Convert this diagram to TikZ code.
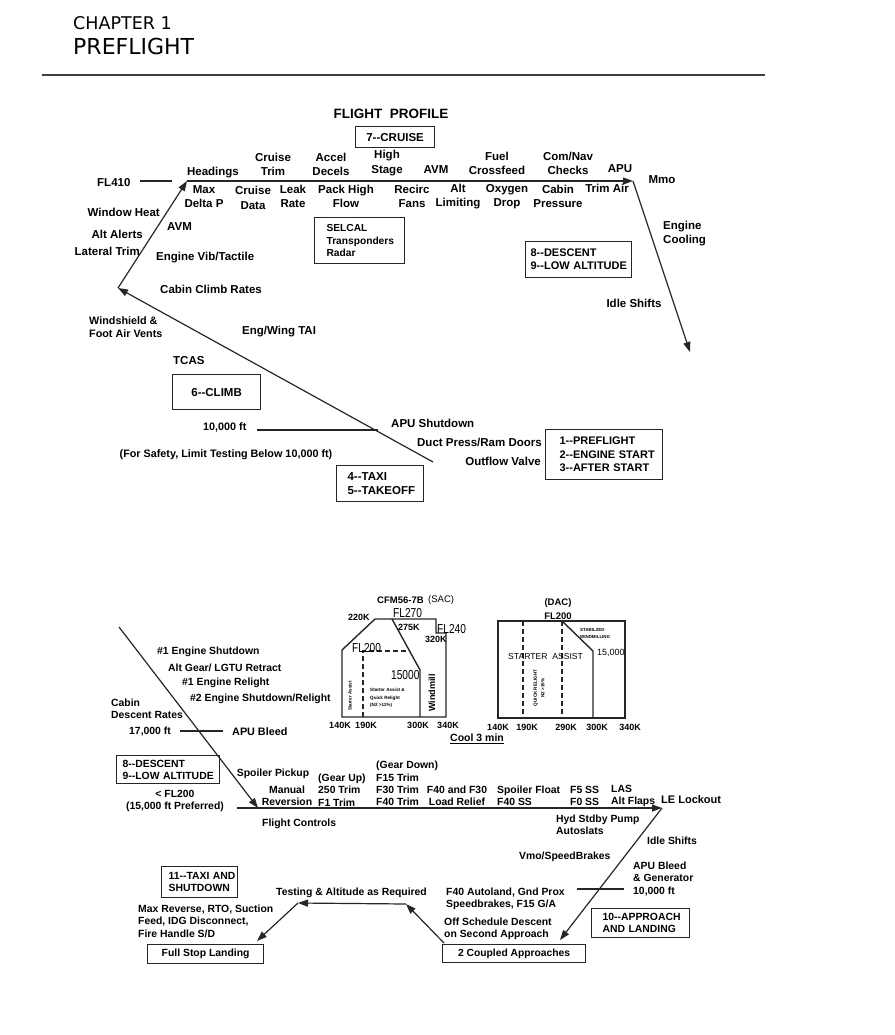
\documentclass[tikz,border=0pt]{standalone}
\usepackage{fontspec}
\usepackage{graphicx}
\setmainfont{Liberation Sans}
\newfontfamily\hdr{DejaVu Sans}
\usetikzlibrary{arrows.meta}
\newcommand{\dd}{-\kern0pt-}
\begin{document}
\begin{tikzpicture}[x=1pt,y=-1pt,
  t/.style={inner sep=0pt, font=\fontsize{11.5}{14.5}\selectfont\bfseries, align=center},
  b/.style={inner sep=0pt, font=\fontsize{10.4}{12.4}\selectfont\bfseries, align=center},
  sm/.style={inner sep=0pt, font=\fontsize{9}{10}\selectfont\bfseries, align=center},
  tiny/.style={inner sep=0pt, font=\fontsize{4.6}{7.5}\selectfont\bfseries, align=left},
  thin/.style={inner sep=0pt, font=\fontsize{13}{14}\selectfont},
  ln/.style={line width=1.2pt, draw=black!85},
  arr/.style={ln, -{Triangle[length=10pt,width=7pt]}},
  chart/.style={line width=1.4pt, draw=black!85},
  dsh/.style={chart, dash pattern=on 5pt off 3pt},
  boxc/.style={draw=black!85, line width=1.2pt, inner sep=0pt, anchor=north west, align=center},
  boxl/.style={draw=black!85, line width=1.2pt, inner ysep=0pt, anchor=north west, align=left}
]
\useasboundingbox (0,0) rectangle (894,1035);
% header
\node[inner sep=0pt, anchor=west, font=\hdr\fontsize{17.5}{20}\selectfont] (ch) at (73,23.5) {CHAPTER 1};
\node[inner sep=0pt, anchor=west, font=\hdr\fontsize{22}{24}\selectfont] (pf) at (73,46) {PREFLIGHT};
\coordinate (r0) at (42,75); \coordinate (r1) at (765,75);
\draw[line width=1.3pt, draw=black!75] (r0) -- (r1);

% ===== top diagram =====
\node[inner sep=0pt, font=\fontsize{13.5}{15}\selectfont\bfseries] (fp) at (391,114) {FLIGHT\ \ PROFILE};
\node[boxc, font=\fontsize{11.5}{14}\selectfont\bfseries, minimum width=79pt, minimum height=21pt] (cruise) at (355,126) {7\dd CRUISE};

\coordinate (c0) at (433,462);
\coordinate (c1) at (118,288);
\coordinate (c2) at (187,181);
\coordinate (c3) at (633,181);
\coordinate (c4) at (690,352);
\draw[arr] (c0) -- (c1);
\draw[arr] (c1) -- (c2);
\draw[arr] (c2) -- (c3);
\draw[arr] (c3) -- (c4);
\coordinate (f0) at (140,181); \coordinate (f1) at (172,181);
\draw[ln] (f0) -- (f1);
\coordinate (k0) at (257,430); \coordinate (k1) at (378,430);
\draw[ln] (k0) -- (k1);

\node[t, anchor=west] (fl410) at (97,183) {FL410};
\node[t] (hd) at (213,173) {Headings};
\node[t] (ct) at (273,164.5) {Cruise\\Trim};
\node[t] (ad) at (331,164.5) {Accel\\Decels};
\node[t] (hs) at (387,163) {High\\Stage};
\node[t] (avm1) at (436,170) {AVM};
\node[t] (fc) at (497,163.5) {Fuel\\Crossfeed};
\node[t] (cn) at (568,163.5) {Com/Nav\\Checks};
\node[t] (apu) at (620,169) {APU};
\node[t] (mmo) at (662,180) {Mmo};
\node[t] (md) at (204,196.5) {Max\\Delta P};
\node[t] (cd) at (253,198) {Cruise\\Data};
\node[t] (lr) at (293,196.5) {Leak\\Rate};
\node[t] (ph) at (346,196.5) {Pack High\\Flow};
\node[t] (rf) at (412,196.5) {Recirc\\Fans};
\node[t] (al) at (458,196.5) {Alt\\Limiting};
\node[t] (od) at (507,196.5) {Oxygen\\Drop};
\node[t] (cp) at (558,196.5) {Cabin\\Pressure};
\node[t] (ta) at (607,188) {Trim Air};
\node[boxl, font=\fontsize{10.2}{12.5}\selectfont\bfseries, inner xsep=12pt, text width=66pt, minimum height=46pt] (selcal) at (314,217) {\mbox{SELCAL}\\\mbox{Transponders}\\\mbox{Radar}};
\node[boxl, font=\fontsize{11}{13}\selectfont\bfseries, inner xsep=5pt, text width=96pt, minimum height=36pt] (desc8) at (525,241) {\mbox{8\dd DESCENT}\\\mbox{9\dd LOW ALTITUDE}};
\node[t, anchor=west, align=left] (ec) at (663,233.5) {Engine\\Cooling};
\node[t] (is1) at (634,303) {Idle Shifts};

\node[t, anchor=east] (wh) at (160,212) {Window Heat};
\node[t, anchor=east] (aa) at (143,234) {Alt Alerts};
\node[t, anchor=east] (lt) at (140,251) {Lateral Trim};
\node[t, anchor=west] (avm2) at (167,227) {AVM};
\node[t, anchor=west] (ev) at (156,258) {Engine Vib/Tactile};
\node[t, anchor=west] (ccr) at (160,289) {Cabin Climb Rates};
\node[t, anchor=west, align=left, font=\fontsize{10.8}{12.5}\selectfont\bfseries] (ws) at (89,327) {Windshield \&\\Foot Air Vents};
\node[t, anchor=west] (ewt) at (242,332) {Eng/Wing TAI};
\node[t, anchor=west] (tcas) at (173,361) {TCAS};
\node[boxc, font=\fontsize{11.5}{14}\selectfont\bfseries, minimum width=88pt, minimum height=35pt] (climb) at (172,374) {6\dd CLIMB};
\node[t, anchor=west, font=\fontsize{10.8}{13}\selectfont\bfseries] (tenk) at (203,427) {10,000 ft};
\node[t, font=\fontsize{10.8}{13}\selectfont\bfseries] (safe) at (226,455) {(For Safety, Limit Testing Below 10,000 ft)};
\node[boxl, font=\fontsize{11.5}{14}\selectfont\bfseries, inner xsep=11pt, text width=65pt, minimum height=36pt] (taxi4) at (336,465) {\mbox{4\dd TAXI}\\\mbox{5\dd TAKEOFF}};
\node[t, anchor=west] (apus) at (391,423) {APU Shutdown};
\node[t, anchor=east] (dp) at (542,442) {Duct Press/Ram Doors};
\node[t, anchor=east] (ov) at (541,461) {Outflow Valve};
\node[boxl, font=\fontsize{11}{13.5}\selectfont\bfseries, inner xsep=14pt, text width=89pt, minimum height=50pt] (pre1) at (545,429) {\mbox{1\dd PREFLIGHT}\\\mbox{2\dd ENGINE START}\\\mbox{3\dd AFTER START}};

% ===== engine charts =====
\node[sm, anchor=west, font=\fontsize{9.5}{11}\selectfont\bfseries] (cfm) at (377,600) {CFM56-7B};
\node[sm, anchor=west, font=\fontsize{9.5}{11}\selectfont] (sac) at (428,600) {(SAC)};
\coordinate (s1) at (342,717); \coordinate (s2) at (342,650); \coordinate (s3) at (375,619);
\coordinate (s4) at (436,619); \coordinate (s5) at (436,633); \coordinate (s6) at (446,633);
\coordinate (s7) at (446,717);
\draw[chart] (s1) -- (s2) -- (s3) -- (s4) -- (s5) -- (s6) -- (s7) -- cycle;
\coordinate (s8) at (392,619); \coordinate (s9) at (420,670); \coordinate (s10) at (420,717);
\draw[chart] (s8) -- (s9) -- (s10);
\coordinate (s11) at (363,717); \coordinate (s12) at (363,651); \coordinate (s13) at (408,651);
\draw[dsh] (s11) -- (s12) -- (s13);
\node[sm, anchor=west] (k220) at (348,617) {220K};
\node[thin, anchor=west] (fl270) at (393,613) {\scalebox{0.78}[1]{FL270}};
\node[sm, anchor=west] (k275) at (398,627) {275K};
\node[thin, anchor=west] (fl240) at (437,629) {\scalebox{0.78}[1]{FL240}};
\node[sm, anchor=west] (k320) at (425,639) {320K};
\node[thin, anchor=west] (fl200a) at (352,648) {\scalebox{0.78}[1]{FL200}};
\node[thin, anchor=west] (n15000) at (391,675) {\scalebox{0.78}[1]{15000}};
\node[tiny, anchor=west] (saq) at (370,698) {Starter Assist \&\\Quick Relight\\(N2 {>}11\%)};
\node[tiny, rotate=90] (sav) at (350,696) {Starter Assist};
\node[sm, rotate=90] (wm) at (432,693) {Windmill};
\node[sm] (a140) at (340,725) {140K};
\node[sm] (a190) at (366,725) {190K};
\node[sm] (a300) at (418,725) {300K};
\node[sm] (a340) at (448,725) {340K};
\node[sm, font=\fontsize{10.5}{12}\selectfont\bfseries] (cool) at (477,739) {\underline{Cool 3 min}};

\node[sm, font=\fontsize{9.5}{11}\selectfont\bfseries] (dac) at (558,603) {(DAC)};
\node[sm, font=\fontsize{9.5}{11}\selectfont\bfseries] (fl200b) at (558,616) {FL200};
\coordinate (d1a) at (498,621); \coordinate (d1b) at (625,718);
\draw[chart] (d1a) rectangle (d1b);
\coordinate (dd1) at (523,621); \coordinate (dd2) at (523,718);
\draw[dsh] (dd1) -- (dd2);
\coordinate (dd3) at (562,621); \coordinate (dd4) at (562,718);
\draw[dsh] (dd3) -- (dd4);
\coordinate (dg1) at (593,651); \coordinate (dg2) at (593,718);
\draw[chart] (dd3) -- (dg1) -- (dg2);
\node[tiny, font=\fontsize{4.4}{6.5}\selectfont\bfseries, anchor=west] (stab) at (580,633.5) {STABILZED\\WINDMILLING};
\node[sm, font=\fontsize{9}{10}\selectfont, anchor=west] (n15k) at (597,653) {15,000};
\node[inner sep=0pt, font=\fontsize{8.6}{10}\selectfont, anchor=west] (sta) at (508,657) {STARTER\ \ ASSIST};
\node[tiny, rotate=90, align=center] (qr) at (539,688) {QUICK RELIGHT\\N2 {>}15\%};
\node[sm] (b140) at (498,727) {140K};
\node[sm] (b190) at (527,727) {190K};
\node[sm] (b290) at (566,727) {290K};
\node[sm] (b300) at (597,727) {300K};
\node[sm] (b340) at (630,727) {340K};

% ===== bottom diagram =====
\coordinate (e0) at (119,627);
\coordinate (e1) at (258,808);
\coordinate (e1s) at (237,808);
\coordinate (e2) at (662,808);
\coordinate (e3) at (560,940);
\draw[arr] (e0) -- (e1);
\draw[arr] (e1s) -- (e2);
\draw[arr] (e2) -- (e3);
\coordinate (g0) at (180,731); \coordinate (g1) at (223,731);
\draw[ln] (g0) -- (g1);
\coordinate (h0) at (577,889); \coordinate (h1) at (624,889);
\draw[ln] (h0) -- (h1);

\node[b, anchor=west] (e1sd) at (157,652) {\#1 Engine Shutdown};
\node[b, anchor=west] (agl) at (168,668) {Alt Gear/ LGTU Retract};
\node[b, anchor=west] (e1r) at (182,683) {\#1 Engine Relight};
\node[b, anchor=west] (e2sd) at (190,699) {\#2 Engine Shutdown/Relight};
\node[b, anchor=west, align=left] (cdr) at (111,709) {Cabin\\Descent Rates};
\node[b, anchor=west] (s17) at (129,732) {17,000 ft};
\node[b, anchor=west, font=\fontsize{10.8}{13}\selectfont\bfseries] (apub) at (232,732) {APU Bleed};
\node[boxl, font=\fontsize{10.4}{12}\selectfont\bfseries, inner xsep=6pt, text width=91pt, minimum height=28pt] (desc8b) at (116,755) {\mbox{8\dd DESCENT}\\\mbox{9\dd LOW ALTITUDE}};
\node[b] (fl200c) at (175,801) {{<} FL200\\(15,000 ft Preferred)};
\node[b] (sp) at (273,774) {Spoiler Pickup};
\node[b] (mr) at (287,796) {Manual\\Reversion};
\node[b, anchor=west, align=left] (gu) at (318,790) {(Gear Up)\\250 Trim\\F1 Trim};
\node[b, anchor=west, align=left] (gd) at (376,783.5) {(Gear Down)\\F15 Trim\\F30 Trim\\F40 Trim};
\node[b] (lrl) at (457,796) {F40 and F30\\Load Relief};
\node[b, anchor=west, align=left] (sf) at (497,796) {Spoiler Float\\F40 SS};
\node[b, anchor=west, align=left] (f5) at (570,796) {F5 SS\\F0 SS};
\node[b, anchor=west, align=left] (las) at (611,796) {LAS\\Alt Flaps};
\node[b, anchor=west, font=\fontsize{11}{13}\selectfont\bfseries] (lel) at (661,800) {LE Lockout};
\node[b, anchor=west] (fctl) at (262,824) {Flight Controls};
\node[b, anchor=west, align=left] (hyd) at (556,825) {Hyd Stdby Pump\\Autoslats};
\node[b, anchor=west] (is2) at (647,841) {Idle Shifts};
\node[b, anchor=west] (vmo) at (519,857) {Vmo/SpeedBrakes};
\node[b, anchor=west, align=left] (apug) at (633,879) {APU Bleed\\\& Generator\\10,000 ft};
\node[boxl, font=\fontsize{10.4}{12}\selectfont\bfseries, inner xsep=11pt, text width=76pt, minimum height=29pt] (appr) at (591,908) {\mbox{10\dd APPROACH}\\\mbox{AND LANDING}};
\node[boxc, font=\fontsize{10.3}{12}\selectfont\bfseries, minimum width=143pt, minimum height=18pt] (coupled) at (442,944) {2 Coupled Approaches};
\node[b, anchor=west, align=left] (f40a) at (446,899) {F40 Autoland, Gnd Prox\\Speedbrakes, F15 G/A};
\node[b, anchor=west, align=left] (osd) at (444,928.5) {Off Schedule Descent\\on Second Approach};

\coordinate (p0) at (444,943);
\coordinate (p1) at (406,904);
\coordinate (p2) at (298,903);
\coordinate (p3) at (257,941);
\draw[arr] (p0) -- (p1);
\draw[arr] (p1) -- (p2);
\draw[arr] (p2) -- (p3);
\node[b, anchor=west] (tar) at (276,893) {Testing \& Altitude as Required};
\node[boxl, font=\fontsize{10.4}{12.5}\selectfont\bfseries, inner xsep=7pt, text width=62pt, minimum height=31pt] (taxi11) at (161,866) {\mbox{11\dd TAXI AND}\\\mbox{SHUTDOWN}};
\node[b, anchor=west, align=left] (mrev) at (138,921) {Max Reverse, RTO, Suction\\Feed, IDG Disconnect,\\Fire Handle S/D};
\node[boxc, font=\fontsize{10.4}{12}\selectfont\bfseries, minimum width=116pt, minimum height=19pt] (fsl) at (147,944) {Full Stop Landing};
\end{tikzpicture}
\end{document}
